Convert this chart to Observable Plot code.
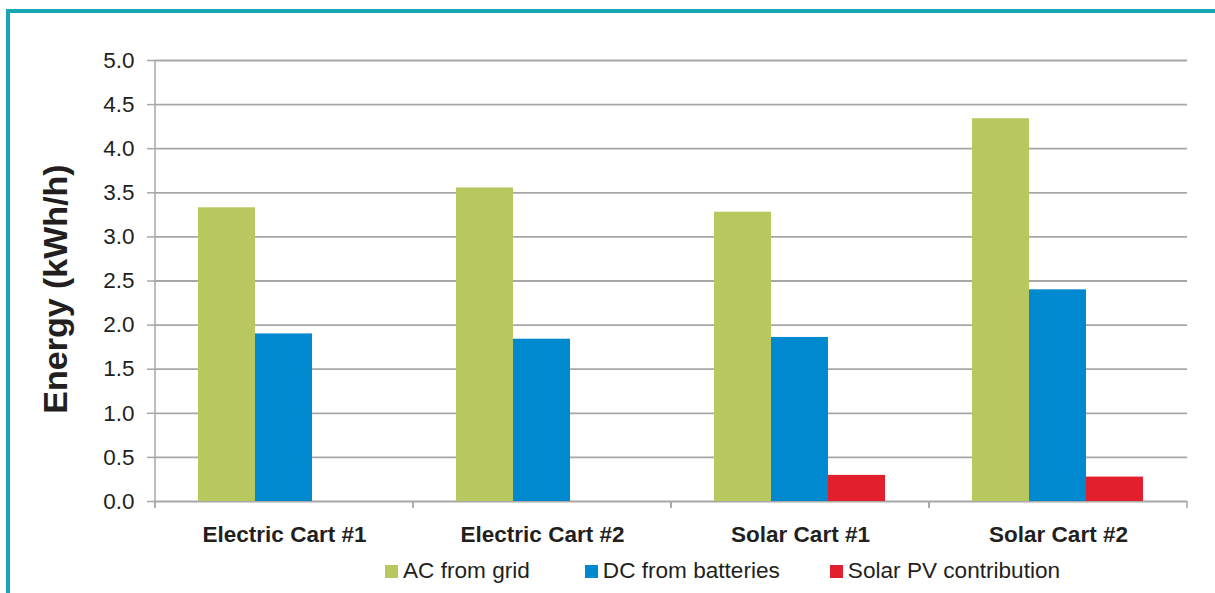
<!DOCTYPE html>
<html>
<head>
<meta charset="utf-8">
<script src="https://cdn.jsdelivr.net/npm/d3@7"></script>
<script src="https://cdn.jsdelivr.net/npm/@observablehq/plot@0.6"></script>
<style>
  html, body { margin: 0; padding: 0; background: #fff; overflow: hidden; }
  #wrap { position: relative; width: 1215px; height: 593px; font-family: "Liberation Sans", Arial, Helvetica, sans-serif; color: #231f20; }
  #chart { position: absolute; left: 0; top: 0; }
  #border { position: absolute; left: 6px; top: 9px; width: 1230px; height: 600px; border-left: 4px solid #17a6b4; border-top: 4px solid #17a6b4; pointer-events: none; }
  #ytitle { position: absolute; left: 55px; top: 289px; transform: translate(-50%, -50%) rotate(-90deg); font-size: 34px; font-weight: bold; line-height: 1; white-space: nowrap; }
  #legend { position: absolute; left: 385px; top: 557px; display: flex; align-items: center; font-size: 22.6px; line-height: 28px; white-space: nowrap; }
  #legend .item { display: flex; align-items: center; gap: 5px; }
  #legend .item + .item { margin-left: 55px; }
  #legend .item:last-child { margin-left: 50px; }
  #legend .sw { width: 13px; height: 13px; display: inline-block; }
</style>
</head>
<body>
<div id="wrap">
  <div id="chart"></div>
  <div id="border"></div>
  <div id="ytitle">Energy (kWh/h)</div>
  <div id="legend"></div>
</div>
<script>
// ---- data ----
const categories = ["Electric Cart #1", "Electric Cart #2", "Solar Cart #1", "Solar Cart #2"];
const series = ["AC from grid", "DC from batteries", "Solar PV contribution"];
const acFromGrid = [3.33, 3.555, 3.28, 4.34];
const dcFromBatteries = [1.90, 1.84, 1.86, 2.40];
const solarPV = [0, 0, 0.296, 0.277];
const seriesColors = ["#b8c85e", "#0089ce", "#e31f2d"];
const yTicks = [0, 0.5, 1, 1.5, 2, 2.5, 3, 3.5, 4, 4.5, 5];

const valuesBySeries = [acFromGrid, dcFromBatteries, solarPV];
const rows = [];
categories.forEach((c, ci) => {
  series.forEach((s, si) => {
    rows.push({category: c, series: s, value: valuesBySeries[si][ci]});
  });
});

const gridColor = "#a7a7a9";

function boundaryTicks(index, scales, values, dimensions) {
  const {marginLeft, marginRight, width} = dimensions;
  const y0 = scales.y(0);
  const g = d3.create("svg:g").attr("stroke", gridColor).attr("stroke-width", 1.5);
  for (const x of [marginLeft, width - marginRight]) {
    g.append("line").attr("x1", x).attr("x2", x).attr("y1", y0).attr("y2", y0 + 7);
  }
  return g.node();
}

function yAxisLine(index, scales, values, dimensions) {
  const {marginLeft} = dimensions;
  const g = d3.create("svg:g").attr("stroke", gridColor).attr("stroke-width", 1.5);
  g.append("line").attr("x1", marginLeft).attr("x2", marginLeft)
    .attr("y1", scales.y(yTicks[yTicks.length - 1])).attr("y2", scales.y(0) + 7);
  return g.node();
}

const chart = Plot.plot({
  width: 1215,
  height: 548,
  marginLeft: 154,
  marginRight: 28,
  marginTop: 60,
  marginBottom: 47,
  style: {background: "transparent", fontFamily: '"Liberation Sans", Arial, Helvetica, sans-serif', color: "#231f20"},
  fx: {domain: categories, padding: 0, label: null},
  x: {domain: series, paddingInner: 0, paddingOuter: 0.757, axis: null},
  y: {domain: [0, 5], label: null},
  color: {domain: series, range: seriesColors},
  marks: [
    Plot.ruleY(yTicks, {stroke: gridColor, strokeWidth: 1.8}),
    Plot.barY(rows, {fx: "category", x: "series", y: "value", fill: "series", dx: -1}),
    Plot.ruleY([0], {stroke: gridColor, strokeWidth: 1.8, render: boundaryTicks}),
    Plot.ruleY([0], {stroke: gridColor, strokeWidth: 1.8, facetAnchor: "left", render: yAxisLine}),
    Plot.axisY({ticks: yTicks, tickFormat: d3.format(".1f"), tickSize: 8, tickPadding: 13,
      stroke: gridColor, strokeWidth: 1.5, fill: "#231f20", fontSize: 22.5, label: null}),
    Plot.axisFx({anchor: "bottom", tickSize: 0, tickPadding: 25, fontSize: 22.5, fontWeight: "bold",
      fill: "#231f20", label: null})
  ]
});
document.getElementById("chart").appendChild(chart);

// legend
const legend = document.getElementById("legend");
series.forEach((s, i) => {
  const item = document.createElement("div");
  item.className = "item";
  const sw = document.createElement("span");
  sw.className = "sw";
  sw.style.background = seriesColors[i];
  const t = document.createElement("span");
  t.textContent = s;
  item.appendChild(sw);
  item.appendChild(t);
  legend.appendChild(item);
});
</script>
</body>
</html>
